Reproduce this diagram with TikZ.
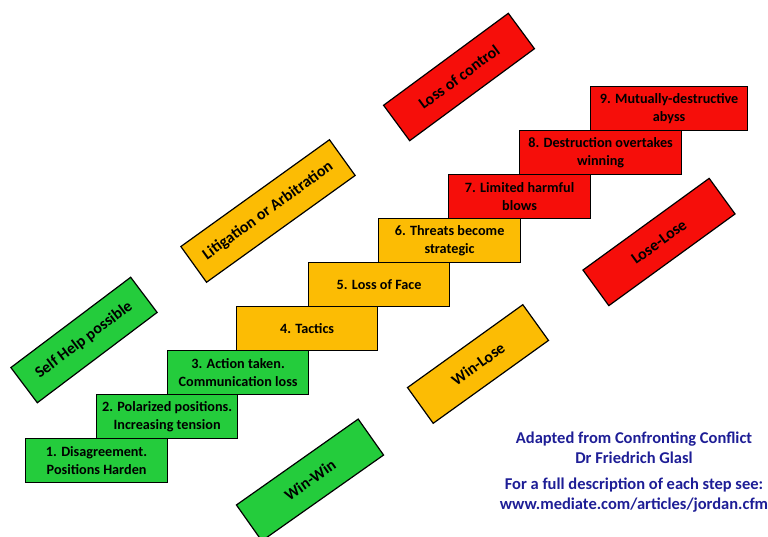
\documentclass[tikz,border=0pt]{standalone}
\usepackage{fontspec}
\setmainfont{Carlito}
\definecolor{stepgreen}{RGB}{36,204,60}
\definecolor{steporange}{RGB}{252,188,4}
\definecolor{stepred}{RGB}{246,14,10}
\definecolor{noteblue}{RGB}{30,30,150}
\begin{document}
\begin{tikzpicture}[x=1pt,y=-1pt,
  stepbox/.style={draw=black, line width=1.2pt, minimum height=44pt, align=center,
    anchor=north west, inner sep=0pt, font=\bfseries\fontsize{14.2}{17.5}\selectfont},
  tiltbox/.style={draw=black, line width=1.2pt, minimum height=44pt, inner sep=0pt,
    font=\bfseries\fontsize{16}{18}\selectfont},
  note/.style={text=noteblue, align=center, font=\bfseries\fontsize{16.5}{19.5}\selectfont}]
\useasboundingbox (0,0) rectangle (768,537);
\clip (0,0) rectangle (768,537);
% steps
\node[stepbox, fill=stepgreen, minimum width=142pt] (s1) at (25,438) {1. Disagreement.\\Positions Harden};
\node[stepbox, fill=stepgreen, minimum width=141pt] (s2) at (96,394) {2. Polarized positions.\\Increasing tension};
\node[stepbox, fill=stepgreen, minimum width=141pt] (s3) at (167,350) {3. Action taken.\\Communication loss};
\node[stepbox, fill=steporange, minimum width=141pt] (s4) at (236,306) {4. Tactics};
\node[stepbox, fill=steporange, minimum width=141pt] (s5) at (308,262) {5. Loss of Face};
\node[stepbox, fill=steporange, minimum width=142pt] (s6) at (378,218) {6. Threats become\\strategic};
\node[stepbox, fill=stepred, minimum width=142pt] (s7) at (448,174) {7. Limited harmful\\blows};
\node[stepbox, fill=stepred, minimum width=162pt] (s8) at (519,130) {8. Destruction overtakes\\winning};
\node[stepbox, fill=stepred, minimum width=157pt] (s9) at (590,86) {9. Mutually-destructive\\abyss};
% tilted labels
\node[tiltbox, fill=stepgreen, minimum width=150pt, rotate=37] (selfhelp) at (84,340) {Self Help possible};
\node[tiltbox, fill=steporange, minimum width=183pt, rotate=35.7] (litig) at (268,211) {Litigation or Arbitration};
\node[tiltbox, fill=stepred, minimum width=155pt, rotate=36.4] (lossctl) at (459,77) {Loss of control};
\node[tiltbox, fill=stepred, minimum width=156pt, rotate=36] (loselose) at (659,242) {Lose-Lose};
\node[tiltbox, fill=steporange, minimum width=142pt, rotate=35.7] (winlose) at (478,364) {Win-Lose};
\node[tiltbox, fill=stepgreen, minimum width=149pt, rotate=35.2] (winwin) at (310,480) {Win-Win};
% notes
\node[note] (credit) at (634,448) {Adapted from Confronting Conflict\\Dr Friedrich Glasl};
\node[note] (link) at (634,495) {For a full description of each step see:\\www.mediate.com/articles/jordan.cfm};
\end{tikzpicture}
\end{document}
